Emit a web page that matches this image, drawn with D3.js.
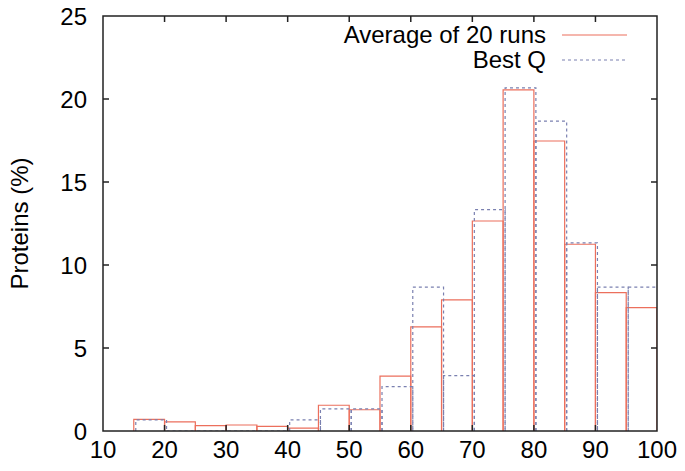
<!DOCTYPE html>
<html>
<head>
<meta charset="utf-8">
<script src="https://cdn.jsdelivr.net/npm/d3@7"></script>
<style>
  body { margin: 0; background: #fff; }
  text { font-family: "Liberation Sans", Arial, sans-serif; fill: #000; }
</style>
</head>
<body>
<script>
const width = 685
const height = 471
const margin = {top: 16, right: 28, bottom: 40, left: 103}
const fontSize = 24

// Bin starts (each bin is 5 wide)
const binStarts = [15, 20, 25, 30, 35, 40, 45, 50, 55, 60, 65, 70, 75, 80, 85, 90, 95]
const binWidth = 5
// Average of 20 runs (%)
const averageRuns = [0.70, 0.55, 0.32, 0.36, 0.28, 0.17, 1.55, 1.28, 3.30, 6.27, 7.90, 12.65, 20.55, 17.47, 11.25, 8.33, 7.43]
// Best Q (%)
const bestQ = [0.67, 0, 0, 0, 0, 0.67, 1.33, 1.33, 2.67, 8.67, 3.33, 13.33, 20.67, 18.67, 11.33, 8.67, 8.67]

const xTicks = [10, 20, 30, 40, 50, 60, 70, 80, 90, 100]
const yTicks = [0, 5, 10, 15, 20, 25]

const series = [
  {name: 'Average of 20 runs', values: averageRuns, color: '#ec6f5c', dash: null, shift: 0},
  {name: 'Best Q', values: bestQ, color: '#7a80b0', dash: '3,3', shift: 2}
]

const svg = d3.select('body').append('svg')
  .attr('width', width)
  .attr('height', height)

const x = d3.scaleLinear().domain([10, 100]).range([margin.left, width - margin.right])
const y = d3.scaleLinear().domain([0, 25]).range([height - margin.bottom, margin.top])

svg.append('clipPath').attr('id', 'plot')
  .append('rect')
  .attr('x', x(10)).attr('y', y(25))
  .attr('width', x(100) - x(10)).attr('height', y(0) - y(25))

// Boxes for each series, drawn as open outlines
const boxes = svg.append('g').attr('clip-path', 'url(#plot)')
series.forEach(s => {
  const g = boxes.append('g').attr('transform', `translate(${s.shift},0)`)
  g.selectAll('path.box')
    .data(binStarts.map((b, i) => ({x0: b, x1: b + binWidth, v: s.values[i]})))
    .enter().append('path').classed('box', true)
    .attr('d', d => `M${x(d.x0)},${y(0)}V${y(d.v)}H${x(d.x1)}V${y(0)}`)
    .attr('fill', 'none')
    .attr('stroke', s.color)
    .attr('stroke-width', 1.2)
    .attr('stroke-dasharray', s.dash)
})

// Frame and ticks (mirrored, pointing inward)
const frame = svg.append('g')
const tickLen = 6
frame.append('rect')
  .attr('x', x(10)).attr('y', y(25))
  .attr('width', x(100) - x(10)).attr('height', y(0) - y(25))
  .attr('fill', 'none').attr('stroke', '#222').attr('stroke-width', 1.5)

frame.selectAll('line.xt')
  .data(xTicks.slice(1, -1))
  .enter().append('line').classed('xt', true)
  .attr('x1', d => x(d)).attr('x2', d => x(d))
  .attr('y1', y(0)).attr('y2', y(0) - tickLen)
  .attr('stroke', '#222').attr('stroke-width', 1.5)
frame.selectAll('line.xtt')
  .data(xTicks.slice(1, -1))
  .enter().append('line').classed('xtt', true)
  .attr('x1', d => x(d)).attr('x2', d => x(d))
  .attr('y1', y(25)).attr('y2', y(25) + tickLen)
  .attr('stroke', '#222').attr('stroke-width', 1.5)
frame.selectAll('line.yt')
  .data(yTicks.slice(1, -1))
  .enter().append('line').classed('yt', true)
  .attr('x1', x(10)).attr('x2', x(10) + tickLen)
  .attr('y1', d => y(d)).attr('y2', d => y(d))
  .attr('stroke', '#222').attr('stroke-width', 1.5)
frame.selectAll('line.ytr')
  .data(yTicks.slice(1, -1))
  .enter().append('line').classed('ytr', true)
  .attr('x1', x(100)).attr('x2', x(100) - tickLen)
  .attr('y1', d => y(d)).attr('y2', d => y(d))
  .attr('stroke', '#222').attr('stroke-width', 1.5)

// Tick labels
svg.selectAll('text.xl')
  .data(xTicks)
  .enter().append('text').classed('xl', true)
  .attr('x', d => x(d)).attr('y', 458)
  .attr('text-anchor', 'middle')
  .attr('font-size', fontSize)
  .text(d => d)
svg.selectAll('text.yl')
  .data(yTicks)
  .enter().append('text').classed('yl', true)
  .attr('x', 87).attr('y', d => y(d) + 8.5)
  .attr('text-anchor', 'end')
  .attr('font-size', fontSize)
  .text(d => d)

svg.append('text')
  .attr('transform', `translate(28,${(y(0) + y(25)) / 2}) rotate(-90)`)
  .attr('text-anchor', 'middle')
  .attr('font-size', fontSize)
  .text('Proteins (%)')

// Legend
const legend = svg.append('g').attr('transform', 'translate(546,43)')
series.forEach((s, i) => {
  const row = legend.append('g').attr('transform', `translate(0,${i * 25})`)
  row.append('text')
    .attr('text-anchor', 'end')
    .attr('font-size', fontSize)
    .text(s.name)
  row.append('line')
    .attr('x1', 16).attr('x2', 81)
    .attr('y1', -8).attr('y2', -8)
    .attr('stroke', s.color)
    .attr('stroke-width', 1.2)
    .attr('stroke-dasharray', s.dash)
})
</script>
</body>
</html>
